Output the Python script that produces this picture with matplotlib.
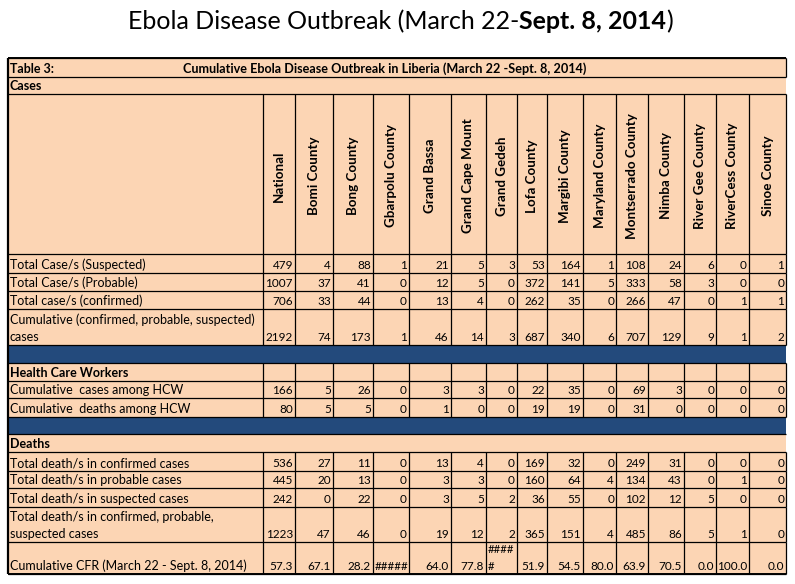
import matplotlib.pyplot as plt
from matplotlib.patches import Rectangle

plt.rcParams['font.family'] = ['Lato', 'DejaVu Sans']

# ---- data ----
counties = ["National", "Bomi County", "Bong County", "Gbarpolu County", "Grand Bassa",
            "Grand Cape Mount", "Grand Gedeh", "Lofa County", "Margibi County",
            "Maryland County", "Montserrado County", "Nimba County", "River Gee County",
            "RiverCess County", "Sinoe County"]

cases_suspected = [479, 4, 88, 1, 21, 5, 3, 53, 164, 1, 108, 24, 6, 0, 1]
cases_probable = [1007, 37, 41, 0, 12, 5, 0, 372, 141, 5, 333, 58, 3, 0, 0]
cases_confirmed = [706, 33, 44, 0, 13, 4, 0, 262, 35, 0, 266, 47, 0, 1, 1]
cases_total = [2192, 74, 173, 1, 46, 14, 3, 687, 340, 6, 707, 129, 9, 1, 2]

hcw_cases = [166, 5, 26, 0, 3, 3, 0, 22, 35, 0, 69, 3, 0, 0, 0]
hcw_deaths = [80, 5, 5, 0, 1, 0, 0, 19, 19, 0, 31, 0, 0, 0, 0]

deaths_confirmed = [536, 27, 11, 0, 13, 4, 0, 169, 32, 0, 249, 31, 0, 0, 0]
deaths_probable = [445, 20, 13, 0, 3, 3, 0, 160, 64, 4, 134, 43, 0, 1, 0]
deaths_suspected = [242, 0, 22, 0, 3, 5, 2, 36, 55, 0, 102, 12, 5, 0, 0]
deaths_total = [1223, 47, 46, 0, 19, 12, 2, 365, 151, 4, 485, 86, 5, 1, 0]

# CFR as shown in the sheet (overflowing cells show ###)
cfr = ["57.3", "67.1", "28.2", "#####", "64.0", "77.8", "####\n#", "51.9", "54.5",
       "80.0", "63.9", "70.5", "0.0", "100.0", "0.0"]

# ---- layout (pixels) ----
W, H = 795, 584
PEACH = "#FCD5B4"
BLUE = "#234A7C"
col_edges = [8, 263, 295, 333, 373, 409, 451, 486, 517, 547, 583, 616, 648, 684, 716, 749, 786]

rows = [
    ("caption", None, None, 19),
    ("section", "Cases", None, 17),
    ("header", None, None, 160),
    ("data", "Total Case/s (Suspected)", cases_suspected, 19),
    ("data", "Total Case/s (Probable)", cases_probable, 18),
    ("data", "Total case/s (confirmed)", cases_confirmed, 18),
    ("data", "Cumulative (confirmed, probable, suspected)\ncases", cases_total, 36),
    ("band", None, None, 18),
    ("subhead", "Health Care Workers", None, 18),
    ("data", "Cumulative  cases among HCW", hcw_cases, 17),
    ("data", "Cumulative  deaths among HCW", hcw_deaths, 19),
    ("band", None, None, 17),
    ("section", "Deaths", None, 18),
    ("data", "Total death/s in confirmed cases", deaths_confirmed, 19),
    ("data", "Total death/s in probable cases", deaths_probable, 17),
    ("data", "Total death/s in suspected cases", deaths_suspected, 19),
    ("data", "Total death/s in confirmed, probable,\nsuspected cases", deaths_total, 35),
    ("data", "Cumulative CFR (March 22 - Sept. 8, 2014)", cfr, 32),
]

fig = plt.figure(figsize=(7.95, 5.84), dpi=100)
ax = fig.add_axes([0, 0, 1, 1])
ax.set_xlim(0, W)
ax.set_ylim(H, 0)
ax.axis('off')

FS = 9.0       # label text
NFS = 8.5      # numbers
LINE_H = 17    # px between wrapped lines
LW = 0.9
x0, x1 = col_edges[0], col_edges[-1]


def hline(y, xa=x0, xb=x1, lw=LW):
    ax.plot([xa, xb], [y, y], color='black', lw=lw, solid_capstyle='butt')


def vline(x, ya, yb, lw=LW):
    ax.plot([x, x], [ya, yb], color='black', lw=lw, solid_capstyle='butt')


def lines_text(x, y_bottom, text, fs=FS, **kw):
    parts = text.split("\n")
    for k, part in enumerate(reversed(parts)):
        ax.text(x, y_bottom - k * LINE_H, part, va='baseline', fontsize=fs, **kw)


y = 58
for kind, label, values, h in rows:
    top, bot = y, y + h
    ax.add_patch(Rectangle((x0, top), x1 - x0, h, facecolor=BLUE if kind == "band" else PEACH,
                           edgecolor='none', zorder=0))
    base = bot - 4
    if kind == "caption":
        ax.text(10, base, "Table 3:", fontsize=9.0, fontweight='bold', va='baseline')
        ax.text(183, base, "Cumulative Ebola Disease Outbreak in Liberia (March 22 -Sept. 8, 2014)",
                fontsize=9.1, fontweight='bold', va='baseline')
        vline(x1, top, bot)
    elif kind == "section":
        ax.text(10, base, label, fontsize=FS, fontweight='bold', va='baseline')
    elif kind == "header":
        for i, name in enumerate(counties):
            cx = (col_edges[i + 1] + col_edges[i + 2]) / 2
            ax.text(cx, (top + bot) / 2 + 2, name, rotation=90, ha='center', va='center',
                    fontsize=9.6, fontweight='bold')
        for x in col_edges[1:]:
            vline(x, top, bot)
    elif kind == "subhead":
        ax.text(10, base, label, fontsize=FS, fontweight='bold', va='baseline')
        for x in col_edges[1:]:
            vline(x, top, bot)
    elif kind == "data":
        lines_text(10, base, label)
        for i, v in enumerate(values):
            xl, xr = col_edges[i + 1], col_edges[i + 2]
            s = str(v)
            if "\n" in s:
                lines_text(xl + 2, base, s, fs=8.2, ha='left')
            elif "#" in s:
                ax.text(xr - 1, base, s, ha='right', va='baseline', fontsize=8.4)
            else:
                ax.text(xr - 2, base, s, ha='right', va='baseline', fontsize=NFS)
        for x in col_edges[1:]:
            vline(x, top, bot)
    hline(top)
    y = bot
hline(y)
vline(x0, 58, y, lw=1.6)
hline(58, lw=1.4)
hline(y, lw=1.4)

# ---- title with bold part, centred over the table ----
TFS = 18
t1 = ax.text(0, 29, "Ebola Disease Outbreak (March 22-", fontsize=TFS, va='baseline')
t2 = ax.annotate("Sept. 8, 2014", xy=(1, 0), xycoords=t1, va='bottom', fontsize=TFS,
                 fontweight='bold')
t3 = ax.annotate(")", xy=(1, 0), xycoords=t2, va='bottom', fontsize=TFS)
fig.canvas.draw()
r = fig.canvas.get_renderer()
left = t1.get_window_extent(r).x0
right = t3.get_window_extent(r).x1
t1.set_x(400 - (right - left) / 2)

fig.savefig("out.png", dpi=100, facecolor='white')
